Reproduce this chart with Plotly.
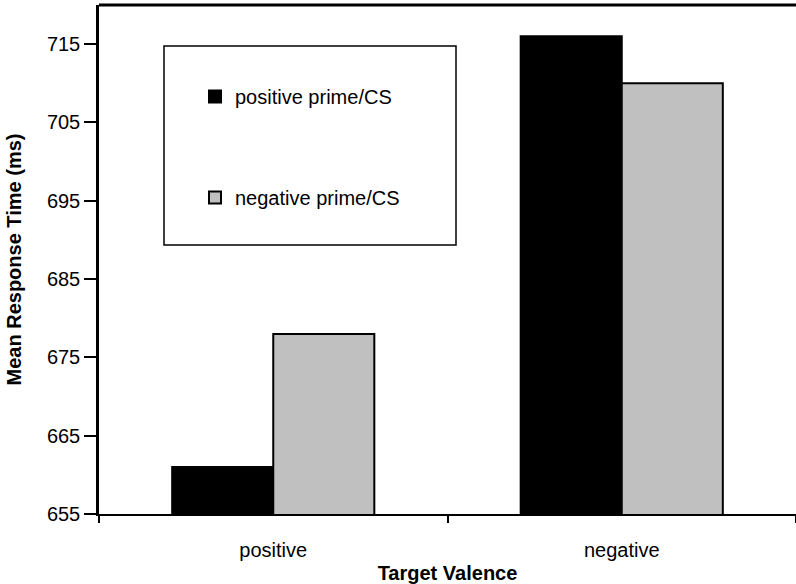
import plotly.graph_objects as go

categories = ["positive", "negative"]
series_names = ["positive prime/CS", "negative prime/CS"]
positive_prime = [661, 716]
negative_prime = [678, 710]
y_ticks = [655, 665, 675, 685, 695, 705, 715]

FONT = "Liberation Sans, Arial, sans-serif"
W, H = 796, 584
ML, MR, MT, MB = 99, 0, 5, 70

fig = go.Figure()
fig.add_trace(go.Bar(
    x=categories, y=positive_prime, name=series_names[0],
    marker=dict(color="#000000", line=dict(color="#000000", width=2)),
    legendgroup="a",
))
fig.add_trace(go.Bar(
    x=categories, y=negative_prime, name=series_names[1],
    marker=dict(color="#C0C0C0", line=dict(color="#000000", width=2)),
    legendgroup="b",
))

pw = W - ML - MR
ph = H - MT - MB
def px2x(p):
    return (p - ML) / pw
def px2y(p):
    return 1 - (p - MT) / ph

fig.update_layout(
    width=W, height=H,
    margin=dict(l=ML, r=MR, t=MT, b=MB, autoexpand=False),
    paper_bgcolor="white", plot_bgcolor="white",
    barmode="group", bargap=0.42, bargroupgap=0,
    font=dict(family=FONT, size=20, color="black"),
    showlegend=True,
    legend=dict(
        x=px2x(195), y=px2y(77), xanchor="left", yanchor="top",
        bgcolor="rgba(0,0,0,0)", borderwidth=0,
        tracegroupgap=72,
        font=dict(family=FONT, size=20, color="black"),
    ),
    shapes=[
        dict(type="rect", xref="paper", yref="paper",
             x0=px2x(164), x1=px2x(456), y0=px2y(245), y1=px2y(46),
             line=dict(color="#000000", width=1.5), fillcolor="rgba(0,0,0,0)",
             layer="below"),
        dict(type="line", xref="paper", yref="paper",
             x0=0, x1=1, y0=1, y1=1,
             line=dict(color="#000000", width=3)),
    ],
)

fig.update_xaxes(
    showline=True, linecolor="#000000", linewidth=1.5,
    ticks="outside", tickson="boundaries", ticklen=7, tickwidth=1.5, tickcolor="#000000",
    showgrid=False, zeroline=False,
    ticklabelstandoff=17,
    tickfont=dict(family=FONT, size=20, color="black"),
    title=dict(text="<b>Target Valence</b>", font=dict(family=FONT, size=20, color="black"), standoff=6),
)
fig.update_yaxes(
    range=[655, 720], tickvals=y_ticks, ticktext=[str(v) for v in y_ticks],
    showline=True, linecolor="#000000", linewidth=2.5,
    ticks="outside", ticklen=12, tickwidth=1.5, tickcolor="#000000",
    showgrid=False, zeroline=False,
    tickfont=dict(family=FONT, size=20, color="black"),
    title=dict(text="<b>Mean Response Time (ms)</b>", font=dict(family=FONT, size=20, color="black"), standoff=20),
)

fig.write_html("out.html", config={"displayModeBar": False},
               post_script="document.body.style.margin='0';")
